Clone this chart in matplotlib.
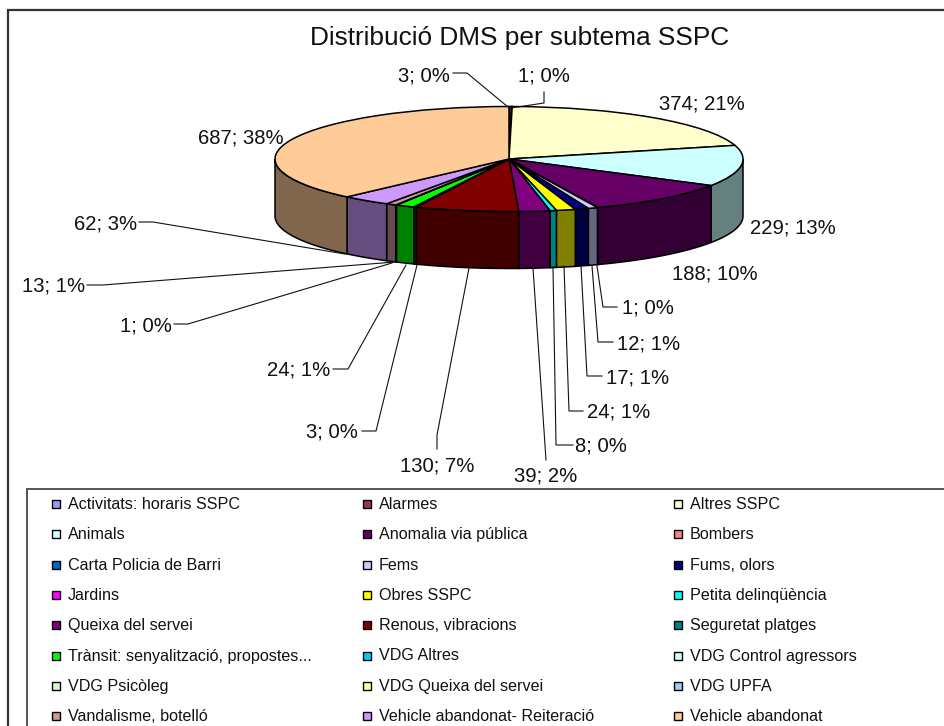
import matplotlib
matplotlib.use("Agg")
import matplotlib.pyplot as plt
import numpy as np
from matplotlib.colors import to_rgb
from matplotlib.patches import Rectangle

plt.rcParams["font.family"] = ["Liberation Sans", "DejaVu Sans"]

W, H = 945, 726

categories = [
    "Activitats: horaris SSPC", "Alarmes", "Altres SSPC",
    "Animals", "Anomalia via pública", "Bombers",
    "Carta Policia de Barri", "Fems", "Fums, olors",
    "Jardins", "Obres SSPC", "Petita delinqüència",
    "Queixa del servei", "Renous, vibracions", "Seguretat platges",
    "Trànsit: senyalització, propostes...", "VDG Altres", "VDG Control agressors",
    "VDG Psicòleg", "VDG Queixa del servei", "VDG UPFA",
    "Vandalisme, botelló", "Vehicle abandonat- Reiteració", "Vehicle abandonat",
]
values = [3, 1, 374, 229, 188, 1, 0, 12, 17, 0, 24, 8,
          39, 130, 3, 24, 1, 0, 0, 0, 0, 13, 62, 687]
colors = [
    "#9999FF", "#993366", "#FFFFCC", "#CCFFFF", "#660066", "#FF8080",
    "#0066CC", "#CCCCFF", "#000080", "#FF00FF", "#FFFF00", "#00FFFF",
    "#800080", "#800000", "#008080", "#00FF00", "#00CCFF", "#CCFFFF",
    "#CCFFCC", "#FFFF99", "#99CCFF", "#CC9999", "#CC99FF", "#FFCC99",
]

# label anchor (x, y, ha) and leader line in pixels, one per non-zero slice
label_pos = {
    0: (450, 74, "right"), 1: (544, 75, "center"), 2: (702, 102, "center"),
    3: (750, 226, "left"), 4: (715, 273, "center"), 5: (622, 307, "left"),
    7: (617, 342, "left"), 8: (606, 376, "left"), 10: (587, 411, "left"),
    11: (575, 445, "left"), 12: (546, 475, "center"), 13: (437, 464, "center"),
    14: (358, 431, "right"), 15: (330, 369, "right"), 16: (172, 324, "right"),
    21: (85, 285, "right"), 22: (137, 222, "right"), 23: (284, 136, "right"),
}
leaders = [
    [(453, 73), (467, 73), (508, 107)],
    [(544, 92), (544, 103), (511, 108)],
    [(597, 266), (603, 307), (617, 307)],
    [(592, 266), (598, 342), (613, 342)],
    [(581, 266), (587, 376), (602, 376)],
    [(564, 266), (569, 411), (583, 411)],
    [(553, 267), (556, 445), (573, 445)],
    [(533, 268), (546, 460)],
    [(469, 268), (437, 435), (437, 449)],
    [(417, 265), (376, 431), (362, 431)],
    [(406, 265), (348, 369), (333, 369)],
    [(392, 263), (188, 324), (174, 324)],
    [(395, 262), (103, 285), (87, 285)],
    [(345, 254), (153, 222), (139, 222)],
]

fig = plt.figure(figsize=(W / 100, H / 100), dpi=100, facecolor="white")

# pie top face: axes box is the bounding box of the ellipse
left, right, top, bottom = 275, 743, 106.5, 211.5
ax = fig.add_axes([left / W, 1 - bottom / H, (right - left) / W, (bottom - top) / H])
ax.pie(values, colors=colors, startangle=90, counterclock=False, radius=1,
       wedgeprops={"edgecolor": "black", "linewidth": 1.1, "clip_on": False, "zorder": 5})
ax.set_aspect("auto")
ax.set_xlim(-1, 1)
ax.set_ylim(-1, 1)
ax.axis("off")

# side wall, only the front half of the pie shows
depth = 57 / ((bottom - top) / 2)
edges = np.cumsum([0] + values) / sum(values) * 360
for i, val in enumerate(values):
    t0, t1 = max(edges[i], 90), min(edges[i + 1], 270)
    if val == 0 or t1 <= t0:
        continue
    t = np.radians(np.linspace(t0, t1, 40))
    xs, ys = np.sin(t), np.cos(t)
    px = np.r_[xs, xs[::-1]]
    py = np.r_[ys, ys[::-1] - depth]
    ax.fill(px, py, facecolor=tuple(c * 0.5 for c in to_rgb(colors[i])),
            edgecolor="black", linewidth=1.1, clip_on=False, zorder=2)

# overlay in pixel coordinates for the texts, leaders, legend and borders
ov = fig.add_axes([0, 0, 1, 1], zorder=10)
ov.set_xlim(0, W)
ov.set_ylim(H, 0)
ov.axis("off")

ov.plot([8, 8, W], [H, 10, 10], color="#333333", lw=1.6, solid_joinstyle="miter")
ov.text(520, 38.5, "Distribució DMS per subtema SSPC", fontsize=18.9, ha="center",
        va="center", color="#111111")

total = sum(values)
for i, (x, y, ha) in label_pos.items():
    ov.text(x, y + 1.5, f"{values[i]}; {values[i] / total * 100:.0f}%", fontsize=14.6,
            ha=ha, va="center", color="#111111")
for pts in leaders:
    ov.plot(*zip(*pts), color="#111111", lw=0.8)

# legend, cut off by the bottom edge like the original
ov.plot([27, 27, W], [H, 489, 489], color="#555555", lw=1.4, solid_joinstyle="miter")
col_x = [52, 363, 674]
for i, name in enumerate(categories):
    row, col = divmod(i, 3)
    y = 504 + row * 30.3
    ov.add_patch(Rectangle((col_x[col], y - 4), 8, 8, facecolor=colors[i],
                           edgecolor="black", lw=1.0))
    ov.text(col_x[col] + 16, y + 0.5, name, fontsize=11.6, ha="left", va="center",
            color="#111111")

fig.savefig("out.png", dpi=100)
plt.close(fig)
